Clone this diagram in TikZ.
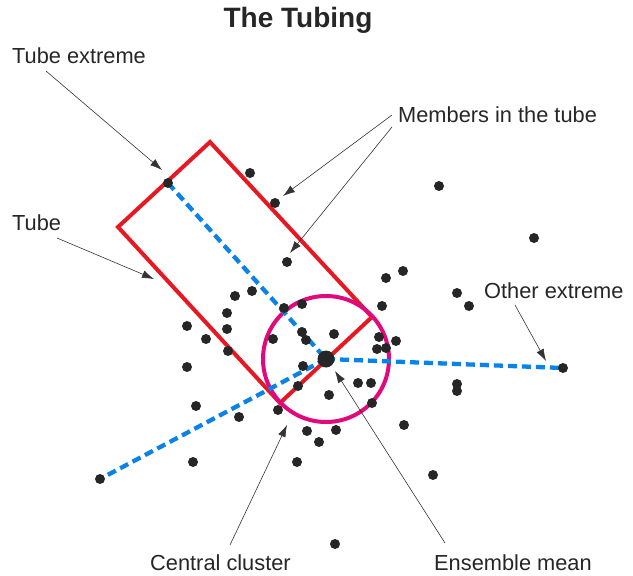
\documentclass[tikz,border=0pt]{standalone}
\usepackage{fontspec}
\setmainfont{Liberation Sans}
\usetikzlibrary{arrows.meta}

\definecolor{tubered}{RGB}{230,25,35}
\definecolor{ringmag}{RGB}{225,10,125}
\definecolor{axisblue}{RGB}{10,130,230}

\begin{document}
\begin{tikzpicture}[
    x=1pt, y=-1pt,
    dot/.style={circle, fill=black!85, inner sep=0pt, minimum size=10pt},
    lbl/.style={font=\fontsize{21.8}{24}\selectfont, text=black!85, inner sep=0pt, anchor=base west},
    pointer/.style={-{Latex[length=12pt, width=8pt]}, black!80, line width=0.6pt},
    axisline/.style={axisblue, line width=4.3pt, dash pattern=on 9pt off 5pt},
    >=Stealth
  ]
  \useasboundingbox (0,0) rectangle (633,576);

  % tube and central circle
  \draw[tubered, line width=4pt, line join=miter]
    (210,142) -- (118,227) -- (280,403) -- (372,317) -- cycle;
  \draw[ringmag, line width=4pt] (326,359) circle (63);

  % tube axis and the two other extremes
  \coordinate (ext) at (168,183);
  \coordinate (mean) at (326,359);
  \coordinate (other) at (563,368);
  \coordinate (far) at (100,479);
  \draw[axisline] (ext) -- (mean);
  \draw[axisline] (mean) -- (other);
  \draw[axisline] (mean) -- (far);

  % ensemble members
  \foreach \x/\y in {250/173, 275/203, 439/186, 534/238, 287/262, 403/271,
      386/278, 457/293, 469/306, 382/306, 252/291, 235/296, 227/313,
      284/308, 302/304, 187/326, 227/329, 206/339, 273/339, 302/332,
      306/340, 334/334, 379/337, 396/341, 377/349, 386/348, 228/351,
      187/367, 303/366, 358/383, 371/383, 329/395, 298/386, 457/384,
      457/391, 196/406, 239/417, 278/410, 307/431, 336/430, 319/442,
      193/462, 297/462, 404/425, 433/475, 335/544, 372/403}
    \fill[black!85] (\x,\y) circle (5);

  \node[dot] (extdot) at (ext) {};
  \node[dot] (otherdot) at (other) {};
  \node[dot] (fardot) at (far) {};
  \node[dot, minimum size=17pt] (meandot) at (mean) {};

  % labels
  \node[font=\fontsize{28}{30}\selectfont\bfseries, text=black!85, anchor=base,
        inner sep=0pt] (title) at (298,27) {The Tubing};
  \node[lbl] (tubeext) at (12,63) {Tube extreme};
  \node[lbl] (members) at (398,122) {Members in the tube};
  \node[lbl] (tube) at (12,230) {Tube};
  \node[lbl] (otherext) at (484,298) {Other extreme};
  \node[lbl] (central) at (150,570) {Central cluster};
  \node[lbl] (ensmean) at (434,570) {Ensemble mean};

  % pointers
  \coordinate (te-a) at (46,71);    \coordinate (te-b) at (162,170);
  \coordinate (mb-a) at (392,115);  \coordinate (mb-b) at (283,196);
  \coordinate (mc-a) at (392,127);  \coordinate (mc-b) at (290,253);
  \coordinate (tb-a) at (57,238);   \coordinate (tb-b) at (154,279);
  \coordinate (oe-a) at (515,305);  \coordinate (oe-b) at (546,361);
  \coordinate (cc-a) at (230,545);  \coordinate (cc-b) at (287,425);
  \coordinate (em-a) at (445,543);  \coordinate (em-b) at (335,371);
  \foreach \p in {te, mb, mc, tb, oe, cc, em}
    \draw[pointer] (\p-a) -- (\p-b);
\end{tikzpicture}
\end{document}
